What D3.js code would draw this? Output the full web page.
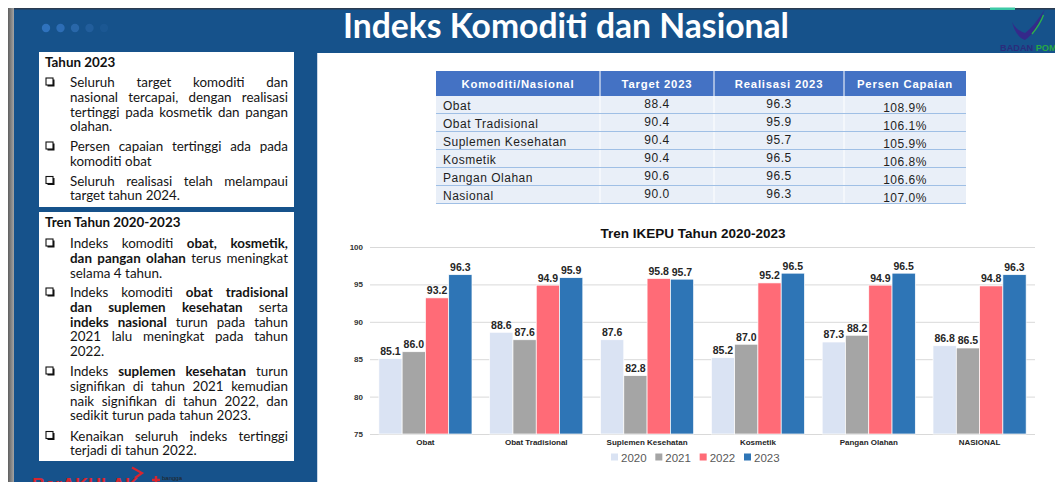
<!DOCTYPE html>
<html>
<head>
<meta charset="utf-8">
<script src="https://cdn.jsdelivr.net/npm/d3@7"></script>
<style>
  html, body { margin: 0; padding: 0; background: #fff; overflow: hidden; }
  svg { display: block; }
</style>
</head>
<body>
<script>
// ---- Chart data: IKEPU trend 2020-2023 ----
const categories = ["Obat", "Obat Tradisional", "Suplemen Kesehatan", "Kosmetik", "Pangan Olahan", "NASIONAL"];
const years = ["2020", "2021", "2022", "2023"];
const values2020 = [85.1, 88.6, 87.6, 85.2, 87.3, 86.8];
const values2021 = [86.0, 87.6, 82.8, 87.0, 88.2, 86.5];
const values2022 = [93.2, 94.9, 95.8, 95.2, 94.9, 94.8];
const values2023 = [96.3, 95.9, 95.7, 96.5, 96.5, 96.3];
const yTicks = [75, 80, 85, 90, 95, 100];
const yearColors = ["#dae3f3", "#a5a5a5", "#ff6b77", "#2e75b6"];

// ---- Table data: target vs realisation 2023 ----
const tableHeaders = ["Komoditi/Nasional", "Target 2023", "Realisasi 2023", "Persen Capaian"];
const tableNames = ["Obat", "Obat Tradisional", "Suplemen Kesehatan", "Kosmetik", "Pangan Olahan", "Nasional"];
const target2023 = [88.4, 90.4, 90.4, 90.4, 90.6, 90.0];
const realisasi2023 = [96.3, 95.9, 95.7, 96.5, 96.5, 96.3];
const capaian2023 = ["108.9%", "106.1%", "105.9%", "106.8%", "106.6%", "107.0%"];

// ---- Side notes (** marks bold words; 1 = justified line) ----
const notes2023 = [
  [["Seluruh target komoditi dan", 1], ["nasional tercapai, dengan realisasi", 1], ["tertinggi pada kosmetik dan pangan", 1], ["olahan.", 0]],
  [["Persen capaian tertinggi ada pada", 1], ["komoditi obat", 0]],
  [["Seluruh realisasi telah melampaui", 1], ["target tahun 2024.", 0]]
];
const notesTrend = [
  [["Indeks komoditi **obat, kosmetik,**", 1], ["**dan pangan olahan** terus meningkat", 1], ["selama 4 tahun.", 0]],
  [["Indeks komoditi **obat tradisional**", 1], ["**dan suplemen kesehatan** serta", 1], ["**indeks nasional** turun pada tahun", 1], ["2021 lalu meningkat pada tahun", 1], ["2022.", 0]],
  [["Indeks **suplemen kesehatan** turun", 1], ["signifikan di tahun 2021 kemudian", 1], ["naik signifikan di tahun 2022, dan", 1], ["sedikit turun pada tahun 2023.", 0]],
  [["Kenaikan seluruh indeks tertinggi", 1], ["terjadi di tahun 2022.", 0]]
];

const W = 1055, H = 482;
const BLUE = "#16528b";
const svg = d3.select("body").append("svg").attr("width", W).attr("height", H);
const defs = svg.append("defs");
const edge = defs.append("linearGradient").attr("id", "edge").attr("x1", 0).attr("x2", 1).attr("y1", 0).attr("y2", 0);
edge.append("stop").attr("offset", 0).attr("stop-color", "#5f5f5f");
edge.append("stop").attr("offset", 1).attr("stop-color", "#a4a4a4");

// ---- slide frame ----
svg.append("rect").attr("width", W).attr("height", H).attr("fill", "#fff");
svg.append("rect").attr("x", 8).attr("y", 8).attr("width", 6).attr("height", H - 8).attr("fill", "url(#edge)");
svg.append("rect").attr("x", 14).attr("y", 9).attr("width", W - 14).attr("height", H - 9).attr("fill", BLUE);
svg.append("rect").attr("x", 14).attr("y", 8).attr("width", W - 14).attr("height", 1.5).attr("fill", "#2a3b50");
svg.append("rect").attr("x", 990).attr("y", 7.5).attr("width", 25).attr("height", 2.5).attr("fill", "#3cc9a6");

// decorative dots
const dotColors = ["#2f72bd", "#2d6db5", "#2967a9", "#225e9c", "#1b5792"];
svg.selectAll("circle.dot").data(dotColors).join("circle")
  .attr("class", "dot")
  .attr("cx", (d, i) => 46 + i * 14.5).attr("cy", 28).attr("r", 4.2)
  .attr("fill", d => d);

// title
const title = svg.append("text")
  .attr("x", 566).attr("y", 38).attr("text-anchor", "middle")
  .attr("font-family", "Lato, 'Open Sans', sans-serif").attr("font-weight", 700)
  .attr("font-size", 27).attr("fill", "#fff")
  .text("Indeks Komoditi dan Nasional");
{
  const w = title.node().getComputedTextLength();
  title.attr("font-size", 27 * 446 / w);
}

// agency mark (top right)
svg.append("path")
  .attr("d", "M1012,22 C1015,33 1020,39 1025,40 C1033,35 1040,22 1045,9 C1038,20 1031,29 1025,33 C1019,31 1015,28 1012,22 Z")
  .attr("fill", "#35298a");
svg.append("path").attr("d", "M1043.5,15 C1041,22 1037,28 1032,34").attr("stroke", "#2fb34a")
  .attr("stroke-width", 1.3).attr("fill", "none");
const mark = svg.append("text").attr("x", 1000).attr("y", 50.5)
  .attr("font-family", "'Liberation Sans', Arial, sans-serif").attr("font-weight", 700).attr("font-size", 9.2);
mark.append("tspan").attr("fill", "#2b2c7c").text("BADAN ");
mark.append("tspan").attr("fill", "#27a844").text("POM");

// bottom-left motto (runs past the slide edge)
svg.append("text").attr("x", 32).attr("y", 491)
  .attr("font-family", "'Liberation Sans', Arial, sans-serif").attr("font-weight", 700)
  .attr("font-size", 18).attr("fill", "#d8262f").text("BerAKHLAK");
svg.append("path").attr("d", "M132,467.5 L142,473 L135,478").attr("fill", "none")
  .attr("stroke", "#d8262f").attr("stroke-width", 2.2);
svg.append("path").attr("d", "M152,480 L160,480 M156,476 L156,484").attr("stroke", "#d8262f").attr("stroke-width", 2.4);
svg.append("text").attr("x", 162).attr("y", 479.5).attr("font-family", "'Liberation Sans', Arial, sans-serif")
  .attr("font-size", 6).attr("fill", "#222").text("bangga");

// ---- left note boxes ----
svg.append("rect").attr("x", 39).attr("y", 52).attr("width", 255).attr("height", 155).attr("fill", "#fff");
svg.append("rect").attr("x", 39).attr("y", 212).attr("width", 255).attr("height", 249).attr("fill", "#fff");

const noteFont = "Lato, 'Open Sans', sans-serif";
const noteSize = 13.4;
const textX = 70, textW = 218;
const lineStep = 14.75;
const minGap = 3.2;

function parseWords(s) {
  const out = [];
  s.split("**").forEach((seg, k) => {
    seg.split(" ").filter(w => w.length).forEach(w => out.push({ w, b: k % 2 === 1 }));
  });
  return out;
}

// one line of words, spread to the full column width when justified
function drawLine(g, str, y, justify) {
  const words = parseWords(str);
  const nodes = words.map(d => g.append("text")
    .attr("y", y).attr("font-family", noteFont).attr("font-size", noteSize)
    .attr("font-weight", d.b ? 700 : 400).attr("fill", "#141414").text(d.w));
  let widths = nodes.map(n => n.node().getComputedTextLength());
  let sum = d3.sum(widths);
  const n = words.length;
  if (n > 1 && sum + minGap * (n - 1) > textW) {
    // tighten an over-long line so it still fits the column
    const k = (textW - minGap * (n - 1)) / sum;
    nodes.forEach(t => t.attr("font-size", noteSize * k));
    widths = nodes.map(t => t.node().getComputedTextLength());
    sum = d3.sum(widths);
  }
  const gap = justify && n > 1 ? (textW - sum) / (n - 1) : noteSize * 0.26;
  let x = textX;
  nodes.forEach((t, i) => { t.attr("x", x); x += widths[i] + gap; });
}

function drawCheck(g, y) {
  g.append("rect").attr("x", 47.5).attr("y", y - 7.5).attr("width", 7).attr("height", 7).attr("fill", "#111");
  g.append("rect").attr("x", 46).attr("y", y - 9).attr("width", 7).attr("height", 7)
    .attr("fill", "#fff").attr("stroke", "#111").attr("stroke-width", 1.1);
}

function drawNotes(heading, headY, bullets, starts) {
  const g = svg.append("g");
  g.append("text").attr("x", 45).attr("y", headY).attr("font-family", noteFont)
    .attr("font-weight", 700).attr("font-size", 13.4).attr("fill", "#111").text(heading);
  bullets.forEach((lines, bi) => {
    drawCheck(g, starts[bi]);
    lines.forEach((ln, li) => drawLine(g, ln[0], starts[bi] + li * lineStep, ln[1] === 1));
  });
}

drawNotes("Tahun 2023", 67, notes2023, [87, 151, 185.5]);
drawNotes("Tren Tahun 2020-2023", 227, notesTrend, [248, 297, 376, 440.5]);

// ---- right content panel ----
svg.append("rect").attr("x", 317).attr("y", 53).attr("width", W - 317).attr("height", H - 53).attr("fill", "#fff");
svg.append("rect").attr("x", 317).attr("y", 53).attr("width", 1).attr("height", H - 53).attr("fill", "#c9d6e6");

// ---- table ----
const colEdges = [436, 600, 714, 844, 966];
const headTop = 71, headH = 25, rowH = 18;
const tbl = svg.append("g").attr("font-family", "'Liberation Sans', Arial, sans-serif");
tbl.append("rect").attr("x", colEdges[0]).attr("y", headTop).attr("width", colEdges[4] - colEdges[0])
  .attr("height", headH).attr("fill", "#4472c4");
tbl.selectAll("text.head").data(tableHeaders).join("text")
  .attr("class", "head")
  .attr("x", (d, i) => (colEdges[i] + colEdges[i + 1]) / 2).attr("y", headTop + 16.5)
  .attr("text-anchor", "middle").attr("font-weight", 700).attr("font-size", 11.3)
  .attr("letter-spacing", 0.8).attr("fill", "#fff").text(d => d);
tbl.selectAll("line.hsep").data(colEdges.slice(1, 4)).join("line")
  .attr("class", "hsep").attr("x1", d => d).attr("x2", d => d)
  .attr("y1", headTop).attr("y2", headTop + headH).attr("stroke", "#fff").attr("stroke-width", 1);

const rows = tableNames.map((n, i) => ({ n, t: target2023[i], r: realisasi2023[i], c: capaian2023[i], i }));
const rowG = tbl.selectAll("g.row").data(rows).join("g").attr("class", "row")
  .attr("transform", d => `translate(0,${headTop + headH + d.i * rowH})`);
rowG.append("rect").attr("x", colEdges[0]).attr("width", colEdges[4] - colEdges[0]).attr("height", rowH)
  .attr("fill", "#e9eff8");
rowG.append("line").attr("x1", colEdges[0]).attr("x2", colEdges[4]).attr("y1", rowH - 0.5).attr("y2", rowH - 0.5)
  .attr("stroke", "#9fbfe5").attr("stroke-width", 1);
rowG.selectAll("line.vsep").data(colEdges.slice(1, 4)).join("line").attr("class", "vsep")
  .attr("x1", d => d).attr("x2", d => d).attr("y1", 0).attr("y2", rowH - 1)
  .attr("stroke", "#fff").attr("stroke-width", 1);
const bodyText = sel => sel.attr("font-size", 12).attr("letter-spacing", 0.5).attr("fill", "#1e1e1e");
rowG.append("text").attr("x", colEdges[0] + 7).attr("y", 13.5).call(bodyText).text(d => d.n);
rowG.append("text").attr("x", (colEdges[1] + colEdges[2]) / 2).attr("y", 12).attr("text-anchor", "middle")
  .call(bodyText).text(d => d3.format(".1f")(d.t));
rowG.append("text").attr("x", (colEdges[2] + colEdges[3]) / 2).attr("y", 12).attr("text-anchor", "middle")
  .call(bodyText).text(d => d3.format(".1f")(d.r));
rowG.append("text").attr("x", (colEdges[3] + colEdges[4]) / 2).attr("y", 15.5).attr("text-anchor", "middle")
  .call(bodyText).text(d => d.c);

// ---- grouped bar chart ----
const series = [values2020, values2021, values2022, values2023];
const chart = svg.append("g").attr("font-family", "'Liberation Sans', Arial, sans-serif");
const x0 = d3.scaleBand().domain(categories).range([370, 1035]).padding(0);
const x1 = d3.scaleBand().domain(years).range([0, x0.bandwidth()]).paddingInner(0).paddingOuter(0.38);
const y = d3.scaleLinear().domain([75, 100]).range([434, 247]);

chart.append("text").attr("x", 693).attr("y", 238).attr("text-anchor", "middle")
  .attr("font-weight", 700).attr("font-size", 13.5).attr("fill", "#111").text("Tren IKEPU Tahun 2020-2023");

// gridlines + tick labels
const yAxis = d3.axisLeft(y).tickValues(yTicks).tickSize(-(1035 - 370)).tickFormat(d3.format("d"));
const yg = chart.append("g").attr("transform", "translate(370,0)").call(yAxis);
yg.select(".domain").remove();
yg.selectAll(".tick line").attr("stroke", "#d9d9d9").attr("stroke-width", 1);
yg.selectAll(".tick text").attr("x", -7).attr("font-size", 8).attr("font-weight", 700)
  .attr("fill", "#333").attr("font-family", "'Liberation Sans', Arial, sans-serif");

const groups = chart.selectAll("g.grp").data(categories).join("g").attr("class", "grp")
  .attr("transform", d => `translate(${x0(d)},0)`);
const barData = ci => years.map((yr, yi) => ({ yr, yi, v: series[yi][ci] }));
groups.each(function (c, ci) {
  const g = d3.select(this);
  const data = barData(ci);
  g.selectAll("rect").data(data).join("rect")
    .attr("x", d => x1(d.yr)).attr("width", x1.bandwidth())
    .attr("y", d => y(d.v)).attr("height", d => y(75) - y(d.v))
    .attr("fill", d => yearColors[d.yi]).attr("stroke", "#fff").attr("stroke-width", 0.7);
  g.selectAll("text").data(data).join("text")
    .attr("x", d => x1(d.yr) + x1.bandwidth() / 2).attr("y", d => y(d.v) - 3.5)
    .attr("text-anchor", "middle").attr("font-size", 10.5).attr("font-weight", 700)
    .attr("fill", "#262626").text(d => d3.format(".1f")(d.v));
});

// category labels
chart.selectAll("text.cat").data(categories).join("text").attr("class", "cat")
  .attr("x", d => x0(d) + x0.bandwidth() / 2).attr("y", 445)
  .attr("text-anchor", "middle").attr("font-size", 8).attr("font-weight", 700)
  .attr("fill", "#262626").text(d => d);

// legend
const legendX = d3.scalePoint().domain(years).range([611, 744]);
const lg = chart.selectAll("g.leg").data(years).join("g").attr("class", "leg")
  .attr("transform", d => `translate(${legendX(d)},0)`);
lg.append("rect").attr("x", 0).attr("y", 453.5).attr("width", 7).attr("height", 7)
  .attr("fill", (d, i) => yearColors[i]);
lg.append("text").attr("x", 10).attr("y", 461.5).attr("font-size", 11.5).attr("fill", "#595959").text(d => d);
</script>
</body>
</html>
